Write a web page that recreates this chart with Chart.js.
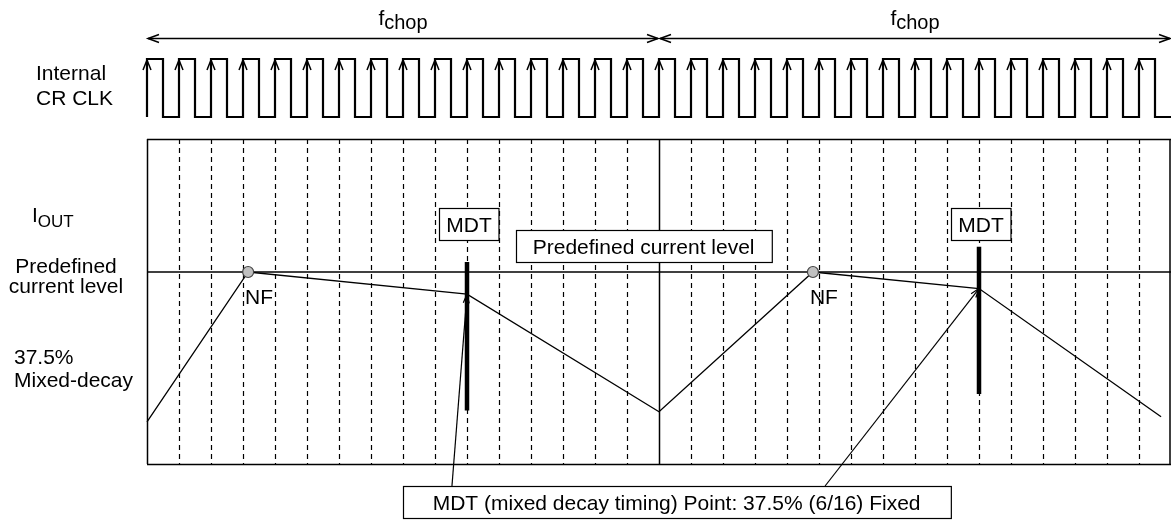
<!DOCTYPE html>
<html lang="en">
<head>
<meta charset="UTF-8">
<meta name="viewport" content="width=device-width, initial-scale=1.0">
<title>Mixed decay timing</title>
<style>
  html, body { margin: 0; padding: 0; background: #fff; }
  #wrap { width: 1171px; height: 520px; position: relative; }
</style>
</head>
<body>
<div id="wrap"><canvas id="timing"></canvas></div>

<script src="https://cdn.jsdelivr.net/npm/chart.js"></script>
<script>
// time is counted in internal clock periods, 16 per chop period
const clkRise = [0, 1, 2, 3, 4, 5, 6, 7, 8, 9, 10, 11, 12, 13, 14, 15,
                 16, 17, 18, 19, 20, 21, 22, 23, 24, 25, 26, 27, 28, 29, 30, 31];
const chopEdges = [0, 16, 32];
const gridTicks = [1, 2, 3, 4, 5, 6, 7, 8, 9, 10, 11, 12, 13, 14, 15,
                   17, 18, 19, 20, 21, 22, 23, 24, 25, 26, 27, 28, 29, 30, 31];

// IOUT, in % of the predefined current level
const iTime = [0, 3.16, 10, 16, 20.81, 26, 31.69];
const iLevel = [21.9, 100, 88.5, 27.2, 100, 91.4, 24.6];
const nfTime = [3.16, 20.81];
const mdtTime = [10, 26];
const mdtTop = [105.2, 113.2];
const mdtBottom = [27.8, 36.5];
const predefLevel = 100;
const boxTop = 169.3;

const FONT = '"Liberation Sans", Arial, Helvetica, sans-serif';

const pts = (xs, ys) => xs.map((v, i) => ({ x: v, y: ys[i] }));

const clkData = [];
clkRise.forEach(t => {
    clkData.push({ x: t, y: 0 }, { x: t, y: 1 }, { x: t + 0.5, y: 1 }, { x: t + 0.5, y: 0 });
});
clkData.push({ x: 32, y: 0 });

function head(ctx, x1, y1, x2, y2, len, half) {
    const a = Math.atan2(y2 - y1, x2 - x1);
    const c = Math.cos(a), s = Math.sin(a);
    ctx.beginPath();
    ctx.moveTo(x2 - len * c - half * s, y2 - len * s + half * c);
    ctx.lineTo(x2, y2);
    ctx.lineTo(x2 - len * c + half * s, y2 - len * s - half * c);
    ctx.stroke();
}

function subText(ctx, main, sub, x, base, size, subSize, drop, align) {
    ctx.font = size + 'px ' + FONT;
    const w1 = ctx.measureText(main).width;
    ctx.font = subSize + 'px ' + FONT;
    const w2 = ctx.measureText(sub).width;
    let left = x;
    if (align === 'center') left = x - (w1 + w2) / 2;
    ctx.textAlign = 'left';
    ctx.font = size + 'px ' + FONT;
    ctx.fillText(main, left, base);
    ctx.font = subSize + 'px ' + FONT;
    ctx.fillText(sub, left + w1, base + drop);
}

function textBox(ctx, text, cx, cy, padX, h) {
    ctx.font = '21px ' + FONT;
    const w = ctx.measureText(text).width + 2 * padX;
    const l = Math.round(cx - w / 2) + 0.5, t = Math.round(cy - h / 2) + 0.5;
    ctx.fillStyle = '#fff';
    ctx.fillRect(l, t, w, h);
    ctx.lineWidth = 1.2;
    ctx.strokeRect(l, t, w, h);
    ctx.fillStyle = '#000';
    ctx.textAlign = 'center';
    ctx.fillText(text, cx, cy + 7.5);
}

const diagram = {
    id: 'diagram',
    beforeDatasetsDraw(chart) {
        const { ctx, scales: { x, y } } = chart;
        const top = y.getPixelForValue(boxTop), bot = y.getPixelForValue(0);
        ctx.save();
        ctx.strokeStyle = '#000';
        ctx.lineWidth = 1.2;
        ctx.setLineDash([5, 4]);
        gridTicks.forEach(t => {
            const px = Math.round(x.getPixelForValue(t)) + 0.5;
            ctx.beginPath(); ctx.moveTo(px, top); ctx.lineTo(px, bot); ctx.stroke();
        });
        ctx.setLineDash([]);
        ctx.lineWidth = 1.5;
        chopEdges.forEach(t => {
            const px = Math.min(Math.round(x.getPixelForValue(t)) + 0.5, chart.width - 1);
            ctx.beginPath(); ctx.moveTo(px, top); ctx.lineTo(px, bot); ctx.stroke();
        });
        const l = x.getPixelForValue(0), r = x.getPixelForValue(32);
        ctx.beginPath();
        ctx.moveTo(l, Math.round(top) + 0.5); ctx.lineTo(r, Math.round(top) + 0.5);
        ctx.moveTo(l, Math.round(bot) + 0.5); ctx.lineTo(r, Math.round(bot) + 0.5);
        ctx.stroke();
        ctx.restore();
    },
    afterDatasetsDraw(chart) {
        const { ctx, scales: { x, y, yc } } = chart;
        ctx.save();
        ctx.strokeStyle = '#000';
        ctx.fillStyle = '#000';
        ctx.lineWidth = 1.5;

        // rising edge arrows on the clock
        const hi = yc.getPixelForValue(1), lo = yc.getPixelForValue(0);
        clkRise.forEach(t => {
            const px = x.getPixelForValue(t);
            head(ctx, px, lo, px, hi + 1, 10, 4);
        });

        // f_chop arrows
        const ay = Math.round(yc.getPixelForValue(1.367)) + 0.5;
        for (let i = 0; i < chopEdges.length - 1; i++) {
            const a = x.getPixelForValue(chopEdges[i]) + 1;
            const b = Math.min(x.getPixelForValue(chopEdges[i + 1]) - 1, chart.width - 1);
            ctx.lineWidth = 1.5;
            ctx.beginPath(); ctx.moveTo(a, ay); ctx.lineTo(b, ay); ctx.stroke();
            head(ctx, b, ay, a, ay, 11, 4);
            head(ctx, a, ay, b, ay, 11, 4);
            subText(ctx, 'f', 'chop', (a + b) / 2, yc.getPixelForValue(1.586), 21, 20, 4, 'center');
        }

        // leader arrowheads at the MDT points
        ctx.lineWidth = 1.2;
        mdtTime.forEach((t, i) => {
            const lv = i === 0 ? iLevel[2] : iLevel[5];
            const sx = i === 0 ? 9.53 : 21.19;
            head(ctx, x.getPixelForValue(sx), y.getPixelForValue(-11.46),
                 x.getPixelForValue(t), y.getPixelForValue(lv), 9, 3);
        });

        // labels inside the plot
        ctx.font = '21px ' + FONT;
        ctx.textAlign = 'left';
        nfTime.forEach(t => {
            ctx.fillText('NF', x.getPixelForValue(t) - 3, y.getPixelForValue(predefLevel) + 32);
        });
        mdtTime.forEach(t => textBox(ctx, 'MDT', x.getPixelForValue(t) + 2, y.getPixelForValue(125), 7, 32));
        textBox(ctx, 'Predefined current level', x.getPixelForValue(15.52), y.getPixelForValue(113.5), 17, 32);
        textBox(ctx, 'MDT (mixed decay timing) Point: 37.5% (6/16) Fixed',
                x.getPixelForValue(16.55), y.getPixelForValue(-19.8), 30, 32);

        // row titles on the left
        ctx.textAlign = 'left';
        ctx.font = '21px ' + FONT;
        ctx.fillText('Internal', 36, 80);
        ctx.fillText('CR CLK', 36, 105);
        subText(ctx, 'I', 'OUT', 32, 222, 21, 17, 5, 'left');
        ctx.font = '21px ' + FONT;
        ctx.textAlign = 'center';
        ctx.fillText('Predefined', 66, 273);
        ctx.fillText('current level', 66, 293);
        ctx.textAlign = 'left';
        ctx.fillText('37.5%', 14, 364);
        ctx.fillText('Mixed-decay', 14, 387);
        ctx.restore();
    }
};

new Chart(document.getElementById('timing'), {
    type: 'scatter',
    data: {
        datasets: [
            {
                label: 'NF',
                data: nfTime.map(t => ({ x: t, y: predefLevel })),
                pointRadius: 5.5,
                pointBackgroundColor: '#c0c0c0',
                pointBorderColor: '#444',
                pointBorderWidth: 1.2,
                order: 0
            },
            {
                label: 'MDT 1',
                data: [{ x: mdtTime[0], y: mdtTop[0] }, { x: mdtTime[0], y: mdtBottom[0] }],
                showLine: true, borderColor: '#000', borderWidth: 4.5, pointRadius: 0, order: 1
            },
            {
                label: 'MDT 2',
                data: [{ x: mdtTime[1], y: mdtTop[1] }, { x: mdtTime[1], y: mdtBottom[1] }],
                showLine: true, borderColor: '#000', borderWidth: 4.5, pointRadius: 0, order: 1
            },
            {
                label: 'IOUT',
                data: pts(iTime, iLevel),
                showLine: true, borderColor: '#000', borderWidth: 1.3, pointRadius: 0, order: 2
            },
            {
                label: 'Leader 1',
                data: [{ x: 9.53, y: -11.46 }, { x: mdtTime[0], y: iLevel[2] }],
                showLine: true, borderColor: '#000', borderWidth: 1.2, pointRadius: 0, order: 2
            },
            {
                label: 'Leader 2',
                data: [{ x: 21.19, y: -11.46 }, { x: mdtTime[1], y: iLevel[5] }],
                showLine: true, borderColor: '#000', borderWidth: 1.2, pointRadius: 0, order: 2
            },
            {
                label: 'Predefined current level',
                data: [{ x: 0, y: predefLevel }, { x: 32, y: predefLevel }],
                showLine: true, borderColor: '#000', borderWidth: 1.3, pointRadius: 0, order: 3
            },
            {
                label: 'Internal CR CLK',
                data: clkData,
                yAxisID: 'yc',
                showLine: true, borderColor: '#000', borderWidth: 2.2,
                borderJoinStyle: 'miter', pointRadius: 0, order: 4
            }
        ]
    },
    options: {
        responsive: true,
        maintainAspectRatio: false,
        animation: false,
        layout: { padding: 0, autoPadding: false },
        plugins: {
            legend: { display: false },
            tooltip: { enabled: false }
        },
        scales: {
            x: { type: 'linear', display: false, min: -147 / 32, max: 32 },
            y: { type: 'linear', display: false, min: -56 / 1.92, max: 464 / 1.92 },
            yc: { type: 'linear', display: false, min: -403 / 58, max: 117 / 58 }
        }
    },
    plugins: [diagram]
});
</script>
</body>
</html>
